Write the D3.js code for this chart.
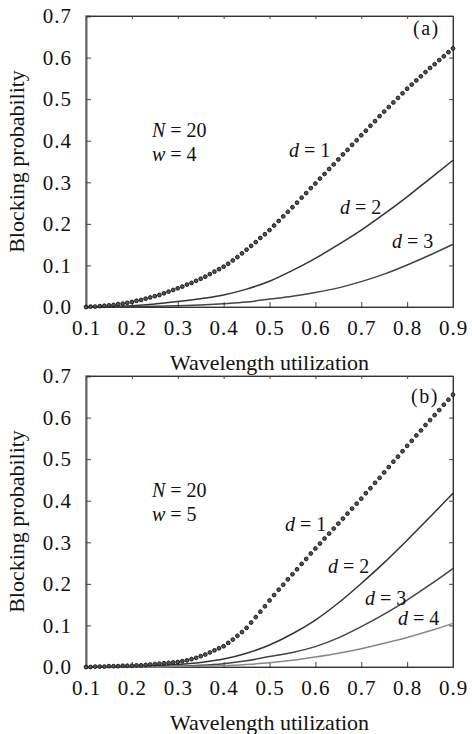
<!DOCTYPE html>
<html>
<head>
<meta charset="utf-8">
<script src="https://cdn.jsdelivr.net/npm/d3@7"></script>
<style>
  body { margin: 0; background: #fff; }
  text { font-family: "Liberation Serif", "Times New Roman", serif; fill: #111; }
</style>
</head>
<body>
<div id="chart"></div>
<script>
// x categories
const uTicks = [0.1, 0.2, 0.3, 0.4, 0.5, 0.6, 0.7, 0.8, 0.9];
const bpTicks = [0.0, 0.1, 0.2, 0.3, 0.4, 0.5, 0.6, 0.7];

const uFine = [0.10, 0.11, 0.12, 0.13, 0.14, 0.15, 0.16, 0.17, 0.18, 0.19, 0.20,
  0.21, 0.22, 0.23, 0.24, 0.25, 0.26, 0.27, 0.28, 0.29, 0.30,
  0.31, 0.32, 0.33, 0.34, 0.35, 0.36, 0.37, 0.38, 0.39, 0.40,
  0.41, 0.42, 0.43, 0.44, 0.45, 0.46, 0.47, 0.48, 0.49, 0.50,
  0.51, 0.52, 0.53, 0.54, 0.55, 0.56, 0.57, 0.58, 0.59, 0.60,
  0.61, 0.62, 0.63, 0.64, 0.65, 0.66, 0.67, 0.68, 0.69, 0.70,
  0.71, 0.72, 0.73, 0.74, 0.75, 0.76, 0.77, 0.78, 0.79, 0.80,
  0.81, 0.82, 0.83, 0.84, 0.85, 0.86, 0.87, 0.88, 0.89, 0.90];
const uCoarse = [0.10, 0.15, 0.20, 0.25, 0.30, 0.35, 0.40, 0.45, 0.50,
  0.55, 0.60, 0.65, 0.70, 0.75, 0.80, 0.85, 0.90];

// panel (a): N = 20, w = 4
const aD1 = [0, .001, .001, .002, .003, .004, .005, .007, .008, .010, .012,
  .015, .017, .020, .023, .026, .029, .033, .037, .041, .045,
  .049, .054, .058, .063, .068, .073, .079, .085, .091, .097,
  .104, .112, .120, .129, .138, .147, .156, .166, .175, .185,
  .196, .207, .218, .229, .240, .251, .263, .274, .286, .297,
  .309, .320, .332, .343, .355, .367, .378, .390, .401, .413,
  .424, .436, .447, .459, .470, .481, .492, .503, .514, .525,
  .535, .545, .555, .565, .575, .584, .594, .603, .613, .622];
const aD2 = [0, .001, .003, .007, .013, .020, .029, .043, .062, .088, .117, .150, .185, .224, .265, .309, .353];
const aD3 = [0, 0, .001, .002, .003, .005, .008, .012, .019, .026, .035, .046, .061, .079, .101, .125, .151];

// panel (b): N = 20, w = 5
const bD1 = [0, 0, .001, .001, .001, .002, .002, .002, .003, .003, .003,
  .004, .004, .005, .006, .007, .008, .009, .010, .011, .012,
  .014, .016, .019, .022, .026, .030, .035, .040, .045, .050,
  .058, .066, .075, .084, .094, .107, .120, .133, .146, .160,
  .173, .186, .198, .211, .223, .235, .248, .260, .273, .285,
  .297, .309, .321, .333, .345, .357, .369, .381, .393, .405,
  .418, .430, .443, .455, .468, .481, .494, .506, .519, .532,
  .544, .557, .569, .582, .594, .606, .618, .631, .643, .655];
const bD2 = [0, 0, .001, .003, .006, .011, .019, .033, .053, .080, .113, .154, .201, .251, .305, .361, .418];
const bD3 = [0, 0, 0, .001, .002, .004, .008, .015, .025, .035, .049, .070, .097, .127, .161, .198, .237];
const bD4 = [0, 0, 0, 0, .001, .002, .003, .006, .010, .016, .024, .033, .044, .057, .071, .087, .105];

const width = 472, height = 734;
const left = 86, right = 453;

const svg = d3.select("#chart").append("svg")
  .attr("width", width)
  .attr("height", height);

const panels = [
  {top: 16, bottom: 307, dots: aD1, lines: [[aD2, "#333", 1.5], [aD3, "#444", 1.5]],
   tag: "(a)", tagPos: [413, 35], note: "4", notePos: [152, 137],
   dLabels: [["1", 289, 157], ["2", 340, 214], ["3", 392, 248]]},
  {top: 376, bottom: 667, dots: bD1, lines: [[bD2, "#333", 1.5], [bD3, "#444", 1.5], [bD4, "#888", 1.5]],
   tag: "(b)", tagPos: [411, 403], note: "5", notePos: [152, 497],
   dLabels: [["1", 285, 531], ["2", 328, 573], ["3", 365, 605], ["4", 398, 625]]}
];

panels.forEach(p => {
  const x = d3.scaleLinear().domain([0.1, 0.9]).range([left, right]);
  const y = d3.scaleLinear().domain([0, 0.7]).range([p.bottom, p.top]);
  const g = svg.append("g");

  // frame
  g.append("rect")
    .attr("x", left).attr("y", p.top)
    .attr("width", right - left).attr("height", p.bottom - p.top)
    .attr("fill", "none").attr("stroke", "#555").attr("stroke-width", 1);

  const xAxis = g.append("g")
    .attr("transform", `translate(0,${p.bottom})`)
    .call(d3.axisBottom(x).tickValues(uTicks).tickSize(-5).tickPadding(13).tickFormat(d3.format(".1f")));
  const yAxis = g.append("g")
    .attr("transform", `translate(${left},0)`)
    .call(d3.axisLeft(y).tickValues(bpTicks).tickSize(-5).tickPadding(14).tickFormat(d3.format(".1f")));
  g.append("g")
    .attr("transform", `translate(${right},0)`)
    .call(d3.axisRight(y).tickValues(bpTicks).tickSize(-4).tickFormat(""));
  g.append("g")
    .attr("transform", `translate(0,${p.top})`)
    .call(d3.axisTop(x).tickValues(uTicks).tickSize(-3).tickFormat(""));

  g.selectAll(".domain").attr("stroke", "#333");
  yAxis.select(".domain").attr("stroke", "#666").attr("stroke-width", 2);
  g.selectAll(".tick line").attr("stroke", "#444");
  [xAxis, yAxis].forEach(a => a.selectAll("text")
    .style("font-family", '"Liberation Serif", serif')
    .attr("font-size", 21).attr("letter-spacing", 1).attr("fill", "#111"));

  // solid curves
  const line = d3.line().x((d, i) => x(uCoarse[i])).y(d => y(d)).curve(d3.curveMonotoneX);
  p.lines.forEach(([vals, col, sw]) => {
    g.append("path").datum(vals)
      .attr("d", line)
      .attr("fill", "none").attr("stroke", col).attr("stroke-width", sw);
  });

  // dotted d = 1
  g.selectAll("circle.d1").data(p.dots).enter().append("circle")
    .attr("class", "d1")
    .attr("cx", (d, i) => x(uFine[i]))
    .attr("cy", d => y(d))
    .attr("r", 1.9)
    .attr("fill", "#555").attr("stroke", "#111").attr("stroke-width", 0.9);

  // annotations
  g.append("text").attr("x", p.tagPos[0]).attr("y", p.tagPos[1])
    .attr("font-size", 20).attr("letter-spacing", 1.5).text(p.tag);

  const n = g.append("text").attr("x", p.notePos[0]).attr("y", p.notePos[1]).attr("font-size", 20);
  n.append("tspan").attr("font-style", "italic").text("N");
  n.append("tspan").text(" = 20");
  const w = g.append("text").attr("x", p.notePos[0]).attr("y", p.notePos[1] + 24).attr("font-size", 20);
  w.append("tspan").attr("font-style", "italic").text("w");
  w.append("tspan").text(" = " + p.note);

  p.dLabels.forEach(([k, lx, ly]) => {
    const t = g.append("text").attr("x", lx).attr("y", ly).attr("font-size", 20);
    t.append("tspan").attr("font-style", "italic").text("d");
    t.append("tspan").text(" = " + k);
  });

  // axis titles
  g.append("text")
    .attr("x", (left + right) / 2).attr("y", p.bottom + 63)
    .attr("text-anchor", "middle").attr("font-size", 22)
    .text("Wavelength utilization");
  g.append("text")
    .attr("transform", `translate(24,${(p.top + p.bottom) / 2}) rotate(-90)`)
    .attr("text-anchor", "middle").attr("font-size", 22)
    .text("Blocking probability");
});
</script>
</body>
</html>
